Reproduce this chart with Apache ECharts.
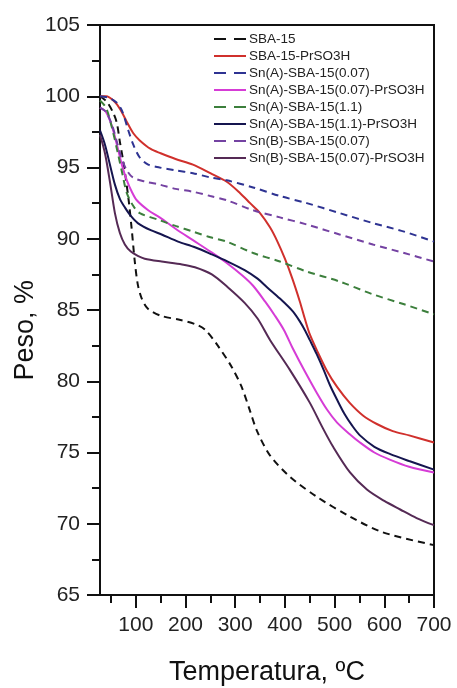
<!DOCTYPE html>
<html>
<head>
<meta charset="utf-8">
<script src="https://cdn.jsdelivr.net/npm/echarts@6/dist/echarts.min.js"></script>
<style>html,body{margin:0;padding:0;background:#fff}#c{width:457px;height:688px}</style>
</head>
<body>
<div id="c"></div>
<script>
// ---- data ----
const seriesNames = [
  "SBA-15",
  "SBA-15-PrSO3H",
  "Sn(A)-SBA-15(0.07)",
  "Sn(A)-SBA-15(0.07)-PrSO3H",
  "Sn(A)-SBA-15(1.1)",
  "Sn(A)-SBA-15(1.1)-PrSO3H",
  "Sn(B)-SBA-15(0.07)",
  "Sn(B)-SBA-15(0.07)-PrSO3H"
];
const xMajorTicks = [100, 200, 300, 400, 500, 600, 700];
const xMinorTicks = [50, 150, 250, 350, 450, 550, 650];

const sba15 = [[28,100],[42,99.6],[55,98.8],[62,98.1],[68,96.8],[74,95.6],[80,94.2],[86,92.6],[92,90.6],[98,88.4],[104,86.8],[112,85.8],[124,85.1],[150,84.6],[190,84.3],[220,84.0],[240,83.6],[265,82.5],[293,81.0],[313,79.6],[330,77.9],[344,76.5],[370,74.8],[410,73.3],[464,71.9],[531,70.5],[597,69.4],[700,68.5]];
const sba15Pr = [[28,100],[40,100],[58,99.6],[70,99.0],[82,98.2],[95,97.4],[108,96.9],[130,96.3],[150,96.0],[180,95.6],[215,95.2],[250,94.6],[283,94.0],[310,93.2],[330,92.5],[350,91.8],[370,90.8],[385,89.8],[400,88.6],[415,87.2],[430,85.6],[440,84.4],[450,83.3],[464,82.2],[485,80.7],[505,79.6],[530,78.5],[557,77.6],[585,77.0],[617,76.5],[650,76.2],[700,75.7]];
const snA007 = [[28,100],[45,99.9],[60,99.6],[72,99.0],[85,97.6],[95,96.6],[108,95.7],[125,95.2],[148,95.0],[180,94.8],[215,94.6],[250,94.3],[283,94.1],[336,93.6],[390,93.0],[444,92.5],[510,91.8],[577,91.1],[640,90.5],[700,89.8]];
const snA007Pr = [[28,99.2],[40,98.9],[52,97.9],[62,96.6],[72,95.2],[82,94.1],[92,93.3],[102,92.7],[125,92.0],[148,91.5],[180,90.7],[215,89.9],[250,89.1],[283,88.3],[315,87.4],[336,86.7],[360,85.6],[380,84.6],[398,83.6],[416,82.3],[440,80.7],[464,79.2],[485,78.0],[505,77.1],[530,76.3],[551,75.7],[580,75.0],[611,74.5],[650,74.0],[700,73.6]];
const snA11 = [[28,99.7],[40,99.2],[52,97.8],[64,96.0],[74,94.4],[82,93.2],[95,92.3],[108,91.8],[148,91.3],[180,90.9],[215,90.5],[250,90.1],[283,89.8],[336,89.0],[390,88.4],[444,87.7],[510,87.0],[577,86.1],[640,85.4],[700,84.7]];
const snA11Pr = [[28,97.6],[38,96.6],[48,95.2],[58,93.8],[68,92.8],[78,92.2],[90,91.6],[104,91.1],[130,90.6],[152,90.3],[185,89.8],[219,89.4],[253,88.9],[285,88.4],[319,87.8],[345,87.2],[364,86.6],[390,85.8],[416,84.9],[430,84.2],[440,83.6],[450,82.9],[464,81.9],[478,80.8],[491,79.7],[505,78.7],[520,77.7],[535,76.9],[551,76.2],[580,75.4],[611,74.9],[650,74.4],[700,73.8]];
const snB007 = [[28,99.2],[40,98.9],[52,98.0],[62,96.8],[72,95.6],[82,94.8],[94,94.3],[120,94.0],[148,93.8],[180,93.5],[215,93.3],[250,93.0],[283,92.7],[336,92.0],[390,91.5],[444,91.0],[510,90.3],[577,89.6],[640,89.0],[700,88.4]];
const snB007Pr = [[28,97.3],[38,96.0],[48,94.0],[58,91.8],[68,90.4],[78,89.6],[90,89.1],[104,88.8],[118,88.6],[152,88.4],[193,88.2],[219,88.0],[253,87.5],[285,86.6],[319,85.5],[345,84.4],[370,82.9],[410,80.8],[450,78.5],[475,76.8],[497,75.4],[531,73.6],[565,72.4],[600,71.6],[632,71.0],[665,70.4],[700,69.9]];

const seriesData = [sba15, sba15Pr, snA007, snA007Pr, snA11, snA11Pr, snB007, snB007Pr];
const seriesColors = ["#111111", "#d0302c", "#2e3392", "#d63cd6", "#3c7f3c", "#15154f", "#7442a2", "#552a55"];
const seriesDashed = [true, false, true, false, true, false, true, false];

const FONT = "'Liberation Sans', Arial, sans-serif";
const chart = echarts.init(document.getElementById('c'), null, {renderer: 'canvas'});

const series = seriesNames.map((n, i) => ({
  name: n,
  type: 'line',
  data: seriesData[i],
  symbol: 'none',
  smooth: 0.3,
  xAxisIndex: 0,
  color: seriesColors[i],
  lineStyle: { color: seriesColors[i], width: 2, type: seriesDashed[i] ? [7, 5] : 'solid' },
  z: 3
}));

chart.setOption({
  animation: false,
  backgroundColor: '#fff',
  grid: { left: 100, right: 23, top: 25, bottom: 93, outerBoundsMode: 'none', containLabel: false, show: true, borderColor: '#111', borderWidth: 2, backgroundColor: 'transparent' },
  legend: {
    orient: 'vertical',
    left: 213,
    top: 32,
    itemWidth: 32,
    itemHeight: 14,
    itemGap: 3,
    padding: 0,
    itemStyle: { opacity: 0 },
    textStyle: { fontFamily: FONT, fontSize: 13.5, color: '#222', lineHeight: 14, padding: [0, 0, 0, -2] },
    data: seriesNames.map((n, i) => ({
      name: n,
      itemStyle: { opacity: 0 },
      lineStyle: seriesDashed[i] ? { type: [12, 8], width: 2, opacity: 1 } : { width: 2, opacity: 1 }
    }))
  },
  xAxis: [
    {
      type: 'value', min: 28, max: 700, position: 'bottom',
      name: 'Temperatura, ºC', nameLocation: 'middle', nameGap: 64,
      nameTextStyle: { fontFamily: FONT, fontSize: 27, color: '#111' },
      axisLine: { show: true, lineStyle: { color: '#111', width: 2 } },
      axisTick: { show: true, inside: false, length: 13, lineStyle: { color: '#111', width: 2 }, customValues: xMajorTicks },
      axisLabel: { show: true, fontFamily: FONT, fontSize: 21, color: '#222', margin: 20, customValues: xMajorTicks },
      splitLine: { show: false }
    },
    {
      type: 'value', min: 28, max: 700, position: 'bottom',
      axisLine: { show: false },
      axisTick: { show: true, inside: false, length: 8, lineStyle: { color: '#111', width: 2 }, customValues: xMinorTicks },
      axisLabel: { show: false },
      splitLine: { show: false }
    }
  ],
  yAxis: {
    type: 'value', min: 65, max: 105, interval: 5,
    axisLine: { show: true, lineStyle: { color: '#111', width: 2 } },
    axisTick: { show: true, inside: false, length: 13, lineStyle: { color: '#111', width: 2 } },
    minorTick: { show: true, splitNumber: 2, length: 8, lineStyle: { color: '#111', width: 2 } },
    axisLabel: { fontFamily: FONT, fontSize: 21, color: '#222', margin: 20 },
    splitLine: { show: false }
  },
  graphic: [{
    type: 'text', left: 12, top: 280, rotation: Math.PI / 2,
    style: { text: 'Peso, %', font: "27px 'Liberation Sans', Arial, sans-serif", fill: '#111' }
  }],
  series: series
});
</script>
</body>
</html>
